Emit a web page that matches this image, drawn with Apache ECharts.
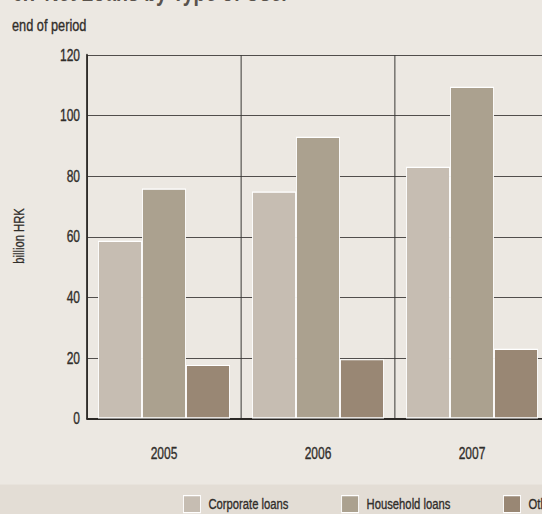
<!DOCTYPE html>
<html>
<head>
<meta charset="utf-8">
<script src="https://cdn.jsdelivr.net/npm/echarts@6/dist/echarts.min.js"></script>
<style>
  html, body { margin: 0; padding: 0; background: #ece8e2; overflow: hidden; }
  #frame { width: 542px; height: 514px; overflow: hidden; position: relative; }
  /* The chart is laid out in a wider space and squeezed horizontally,
     which gives the condensed lettering of the printed figure. */
  #chart { width: 760px; height: 514px; transform: scaleX(0.75); transform-origin: 0 0; }
</style>
</head>
<body>
<div id="frame"><div id="chart"></div></div>
<script>
// Net loans by type of user, end of period, billion HRK
const years = ['2005', '2006', '2007'];
const corporateLoans = [58.7, 74.9, 83.1];
const householdLoans = [75.9, 93.0, 109.5];
const otherLoans = [17.7, 19.6, 23.0];
const seriesNames = ['Corporate loans', 'Household loans', 'Other'];
const yTicks = { min: 0, max: 120, interval: 20 };

const SX = 0.75;                      // horizontal squeeze applied by CSS
const px = (v) => v / SX;             // screen x-distance -> layout x-distance

const FONT = "'Liberation Sans', Arial, sans-serif";
const TEXT = '#302d2a';
const colors = ['#c6bdb2', '#aba18f', '#998774'];

// a hairline outline in the text colour keeps squeezed strokes solid
const solid = { textBorderColor: TEXT, textBorderWidth: 0.35 };

const chart = echarts.init(document.getElementById('chart'), null, { renderer: 'svg' });

const barStyle = (c) => ({ color: c, borderColor: '#ffffff', borderWidth: 1.2 });

chart.setOption({
  backgroundColor: '#ece8e2',
  animation: false,
  textStyle: { fontFamily: FONT, color: TEXT },
  graphic: [
    {
      // legend band along the bottom
      type: 'rect', z: -10, silent: true,
      shape: { x: 0, y: 484.5, width: 760, height: 30 },
      style: { fill: '#e3ddd5' }
    },
    {
      // vertical axis unit, rotated; local scaling undoes the page squeeze
      type: 'text', silent: true, z: 5,
      x: px(19), y: 236,
      rotation: Math.PI / 2,
      scaleX: SX, scaleY: 1 / SX,
      style: {
        text: 'billion HRK',
        font: "15px 'Liberation Sans', Arial, sans-serif",
        fill: TEXT, align: 'center', verticalAlign: 'middle',
        stroke: TEXT, lineWidth: 0.3
      }
    }
  ],
  title: [
    {
      text: '6.7 Net Loans by Type of User',
      left: px(12), top: -21, padding: 0,
      textStyle: { fontFamily: FONT, fontSize: 26, fontWeight: 'bold', color: '#5a534d' }
    },
    {
      text: 'end of period',
      left: px(12), top: 16, padding: 0,
      textStyle: Object.assign({ fontFamily: FONT, fontSize: 17, fontWeight: 'normal', color: TEXT }, solid)
    }
  ],
  legend: {
    data: seriesNames,
    left: px(183), top: 495,
    padding: 0,
    icon: 'rect',
    itemWidth: px(17), itemHeight: 17,
    itemGap: px(52.5),
    itemStyle: { borderColor: '#ffffff', borderWidth: 1.2 },
    textStyle: Object.assign({ fontFamily: FONT, fontSize: 15, color: TEXT, padding: [0, 0, 0, 5.7] }, solid)
  },
  grid: { left: px(87), top: 55, width: px(462), bottom: 95.5, containLabel: false },
  xAxis: {
    type: 'category',
    data: years,
    boundaryGap: true,
    axisLine: { show: true, lineStyle: { color: '#2b2825', width: 2 } },
    axisTick: { show: false },
    axisLabel: Object.assign({ fontFamily: FONT, fontSize: 16, color: TEXT, margin: 26.5 }, solid),
    splitLine: { show: true, interval: 0, lineStyle: { color: '#3a3836', width: px(1) } }
  },
  yAxis: {
    type: 'value',
    min: yTicks.min, max: yTicks.max, interval: yTicks.interval,
    axisLine: { show: true, lineStyle: { color: '#2b2825', width: px(1.7) } },
    axisTick: { show: false },
    axisLabel: Object.assign({ fontFamily: FONT, fontSize: 16, color: TEXT, margin: px(7) }, solid),
    splitLine: { show: true, lineStyle: { color: '#3a3836', width: 1 } }
  },
  series: [
    { name: seriesNames[0], type: 'bar', data: corporateLoans, barGap: '0%', barCategoryGap: '14.3%', itemStyle: barStyle(colors[0]) },
    { name: seriesNames[1], type: 'bar', data: householdLoans, barGap: '0%', barCategoryGap: '14.3%', itemStyle: barStyle(colors[1]) },
    { name: seriesNames[2], type: 'bar', data: otherLoans, barGap: '0%', barCategoryGap: '14.3%', itemStyle: barStyle(colors[2]) }
  ]
});
</script>
</body>
</html>
